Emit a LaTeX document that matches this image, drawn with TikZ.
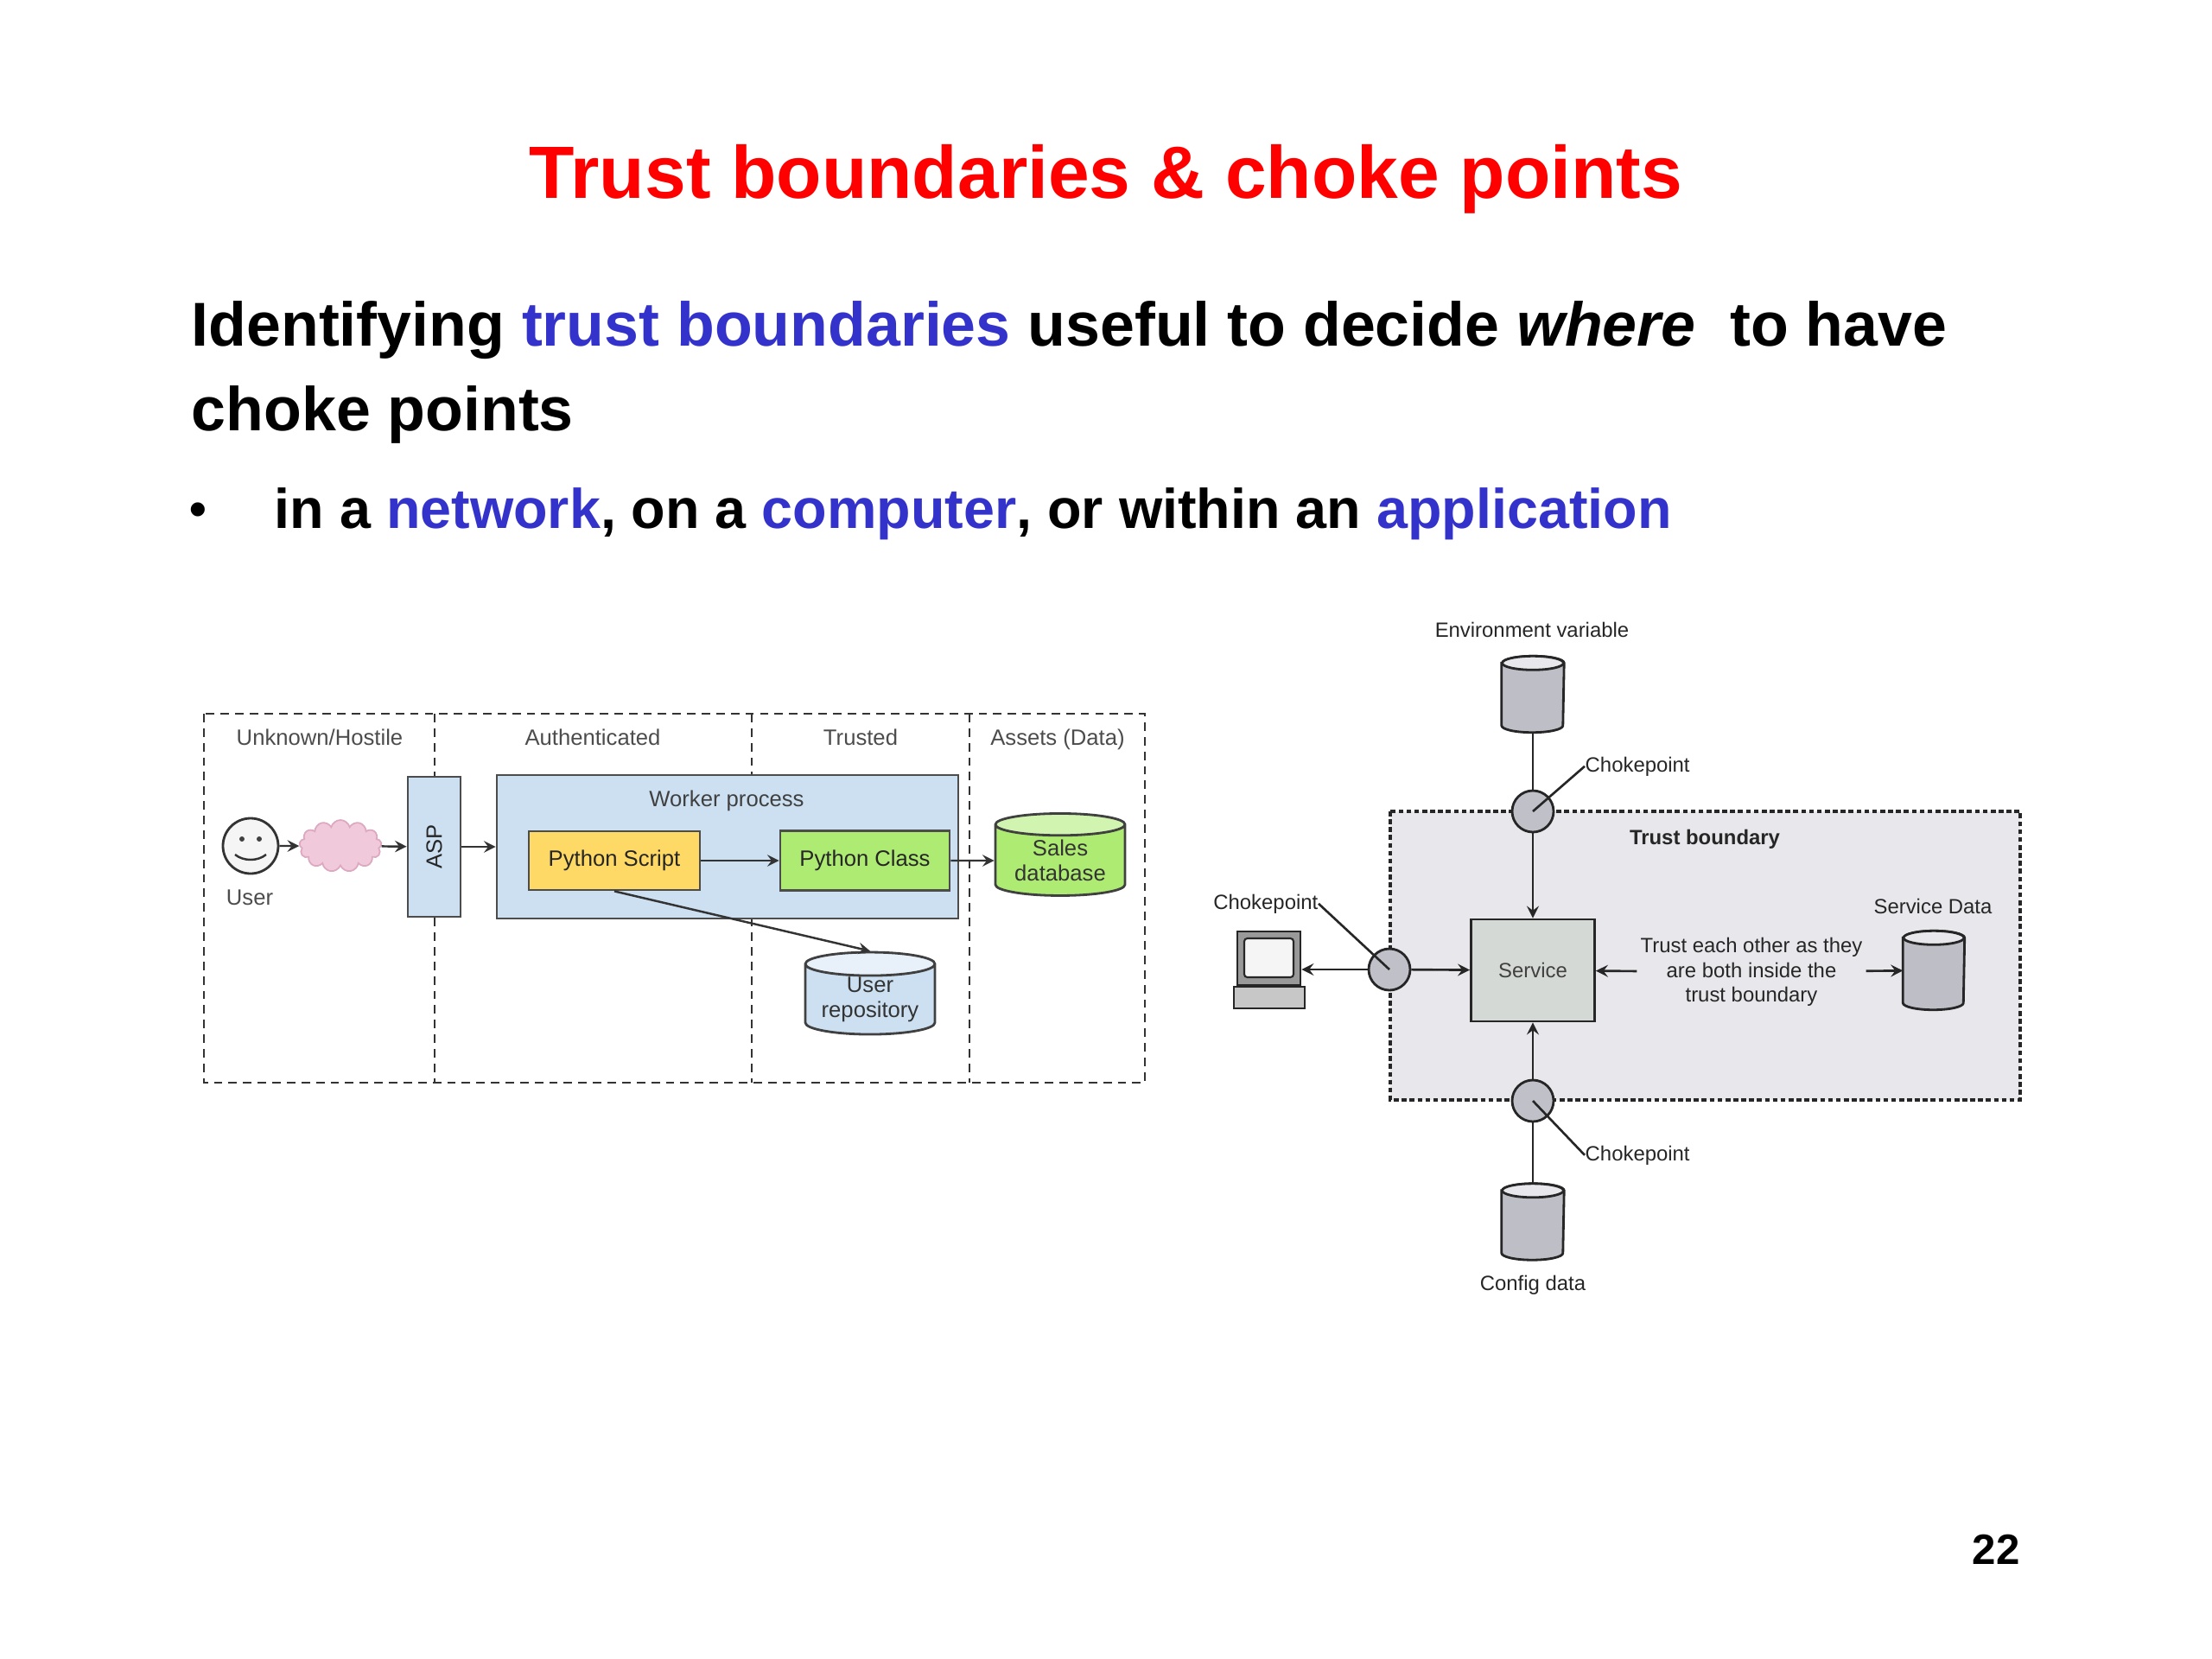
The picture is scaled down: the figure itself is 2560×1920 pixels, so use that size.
\documentclass[tikz,border=0pt]{standalone}
\usepackage{fontspec}
\setmainfont{Liberation Sans}
\usetikzlibrary{shapes.geometric,shapes.symbols,calc}
\tikzset{>=stealth}

\definecolor{titlered}{HTML}{FF0000}
\definecolor{linkblue}{HTML}{3333CC}
\definecolor{aspblue}{HTML}{CCE0F2}
\definecolor{scriptyellow}{HTML}{FFD966}
\definecolor{classgreen}{HTML}{AEEB72}
\definecolor{cloudpink}{HTML}{F0CADA}
\definecolor{cloudedge}{HTML}{DDA8C0}
\definecolor{zonegray}{HTML}{E8E8EC}
\definecolor{chokegray}{HTML}{BFC0C8}
\definecolor{svcgray}{HTML}{D5D9D5}
\definecolor{dbgray}{HTML}{BEBEC6}
\definecolor{dbtop}{HTML}{E8E8EC}

% grey data store drawn round a named node
\newcommand{\drawdb}[2]{%
  \draw[dbline] ($(#1.north west)+(0,-0.8mm)$) -- ($(#1.south west)+(0,0.8mm)$)
    arc[start angle=180,end angle=360,x radius=#2,y radius=0.8mm]
    -- ($(#1.north east)+(0,-0.8mm)$)
    arc[start angle=0,end angle=180,x radius=#2,y radius=0.8mm] -- cycle;
  \draw[dbline,fill=dbtop] ($(#1.north)+(0,-0.8mm)$) ellipse[x radius=#2,y radius=0.8mm];
}

\begin{document}
\begin{tikzpicture}[x=0.1mm,y=-0.1mm,
    zone/.style={draw=black!80,line width=0.7pt,dash pattern=on 2.8pt off 2pt},
    lefttext/.style={font=\fontsize{7.3}{8.6}\selectfont,text=black!70,inner sep=0,anchor=base},
    leftbox/.style={draw=black!70,line width=0.8pt,font=\fontsize{7.3}{8.6}\selectfont,text=black!85,inner sep=0},
    leftdb/.style={cylinder,shape border rotate=90,aspect=0.24,draw=black!75,line width=0.8pt,
      cylinder uses custom fill,minimum width=15mm,minimum height=9.5mm,inner sep=0,align=center,
      font=\fontsize{7.3}{8.2}\selectfont,text=black!80},
    flow/.style={->,draw=black!80,line width=0.7pt},
    righttext/.style={font=\fontsize{6.8}{8.1}\selectfont,text=black!85,inner sep=0},
    boundary/.style={draw=black!85,line width=0.9pt,dash pattern=on 1.6pt off 1pt},
    choke/.style={circle,draw=black!85,fill=chokegray,line width=0.8pt,minimum size=4.8mm,inner sep=0},
    dbnode/.style={minimum width=7.1mm,minimum height=8.7mm,inner sep=0},
    dbline/.style={draw=black!85,line width=0.8pt,fill=dbgray},
    link/.style={draw=black!85,line width=0.75pt},
  ]
  \useasboundingbox (0,0) rectangle (2560,1920);

  % slide text
  \node[anchor=base,inner sep=0,text=titlered,font=\fontsize{24.4}{30}\selectfont\bfseries] (title) at (1280,229) {Trust boundaries \& choke points};
  \node[anchor=base west,inner sep=0,font=\fontsize{20.4}{26}\selectfont\bfseries] (line1) at (221,400) {Identifying \textcolor{linkblue}{trust boundaries} useful to decide \textit{where}\ \ to have};
  \node[anchor=base west,inner sep=0,font=\fontsize{20.4}{26}\selectfont\bfseries] (line2) at (221,498) {choke points};
  \node[anchor=base west,inner sep=0,font=\fontsize{16}{24}\selectfont\bfseries] (bullet) at (219,608) {•};
  \node[anchor=base west,inner sep=0,font=\fontsize{18.4}{24}\selectfont\bfseries] (line3) at (317,611) {in a \textcolor{linkblue}{network}, on a \textcolor{linkblue}{computer}, or within an \textcolor{linkblue}{application}};
  \node[anchor=base west,inner sep=0,font=\fontsize{14}{17}\selectfont\bfseries] (pagenum) at (2282,1810) {22};

  % left figure: zones
  \draw[zone] (236,826) rectangle (1325,1253);
  \foreach \x in {503,870,1122} \draw[zone] (\x,826) -- (\x,1253);
  \node[lefttext] (hostile) at (370,862) {Unknown/Hostile};
  \node[lefttext] (authed) at (686,862) {Authenticated};
  \node[lefttext] (trusted) at (996,862) {Trusted};
  \node[lefttext] (assets) at (1224,862) {Assets (Data)};

  % user and network
  \node[circle,draw=black!80,fill=black!4,line width=0.8pt,minimum size=6.4mm,inner sep=0] (user) at (290,979) {};
  \fill[black!75] ($(user)+(-10,-8)$) circle (0.3mm) ($(user)+(10,-8)$) circle (0.3mm);
  \draw[black!80,line width=0.7pt] ($(user)+(-18,10)$) .. controls ($(user)+(-8,18)$) and ($(user)+(8,18)$) .. ($(user)+(18,10)$);
  \node[lefttext] (userlbl) at (289,1047) {User};
  \node[cloud,cloud puffs=13,aspect=1.6,fill=cloudpink,draw=cloudedge,line width=0.5pt,minimum width=9.5mm,minimum height=6mm,inner sep=0] (net) at (394,979) {};

  % ASP and worker
  \node[leftbox,fill=aspblue,rotate=90,minimum width=16.2mm,minimum height=6.1mm] (asp) at (502.5,980) {ASP};
  \node[leftbox,fill=aspblue,minimum width=53.4mm,minimum height=16.6mm] (worker) at (842,980) {};
  \node[lefttext,text=black!75] (workerlbl) at (841,933) {Worker process};
  \node[leftbox,fill=scriptyellow,minimum width=19.8mm,minimum height=6.8mm] (script) at (711,996) {Python Script};
  \node[leftbox,fill=classgreen,minimum width=19.6mm,minimum height=6.9mm] (class) at (1001,996) {Python Class};
  \node[leftdb,cylinder body fill=classgreen,cylinder end fill=classgreen!55!white] (sales) at (1227,996) {Sales\\database};
  \node[leftdb,cylinder body fill=aspblue,cylinder end fill=aspblue!45!white] (repo) at (1007,1157) {User\\repository};

  \draw[flow] (user) -- (net);
  \draw[flow] (net) -- (asp);
  \draw[flow] (asp) -- (worker);
  \draw[flow] (script) -- (class);
  \draw[flow] (class) -- (sales);
  \draw[flow] (script.south) -- (repo.north);

  % right figure: trust boundary
  \fill[zonegray] (1609,939) rectangle (2338,1273);
  \draw[boundary] (1609,939) rectangle (2338,1273);
  \node[righttext,anchor=base,font=\fontsize{6.8}{8.1}\selectfont\bfseries] (tblbl) at (1973,977) {Trust boundary};

  \node[righttext,anchor=base] (envlbl) at (1773,737) {Environment variable};
  \node[dbnode] (envdb) at (1774,803.5) {};
  \drawdb{envdb}{3.55mm}
  \node[choke] (cptop) at (1774,939) {};
  \node[choke] (cpleft) at (1608,1122) {};
  \node[choke] (cpbot) at (1774,1274) {};
  \node[draw=black!85,fill=svcgray,line width=0.8pt,minimum width=14.3mm,minimum height=11.8mm,
    font=\fontsize{6.8}{8.1}\selectfont,text=black!75] (service) at (1774,1123) {Service};
  \node[dbnode] (cfgdb) at (1774,1414) {};
  \drawdb{cfgdb}{3.55mm}
  \node[righttext,anchor=base] (cfglbl) at (1774,1493) {Config data};
  \node[dbnode,minimum height=9mm,minimum width=7mm] (svcdb) at (2238,1123) {};
  \drawdb{svcdb}{3.5mm}
  \node[righttext,anchor=base] (svcdblbl) at (2237,1057) {Service Data};
  \node[righttext,align=center] (trusttext) at (2027,1125) {Trust each other as they\\are both inside the\\trust boundary};
  \node[righttext,anchor=base west] (cktop) at (1834,893) {Chokepoint};
  \node[righttext,anchor=base east] (ckleft) at (1526,1052) {Chokepoint};
  \node[righttext,anchor=base west] (ckbot) at (1834,1343) {Chokepoint};

  % computer
  \node[draw=black!85,fill=black!40,line width=0.8pt,minimum width=7.3mm,minimum height=6.2mm,inner sep=0] (pc) at (1468.5,1109) {};
  \draw[black!85,fill=black!4,rounded corners=1pt,line width=0.6pt] (1440,1086) rectangle (1497,1131);
  \node[draw=black!85,fill=black!22,line width=0.8pt,minimum width=8.2mm,minimum height=2.5mm,inner sep=0] (pcbase) at (1469,1154.5) {};

  \draw[link] (envdb) -- (cptop);
  \draw[link,->] (cptop) -- (service);
  \draw[link,->] (cpleft) -- (service);
  \draw[link,->] (cpleft) -- (cpleft -| pc.east);
  \draw[link,->] (cpbot) -- (service);
  \draw[link] (cpbot) -- (cfgdb);
  \draw[link,->,shorten <=1pt] (trusttext) -- (service);
  \draw[link,->,shorten <=1pt] (trusttext) -- (svcdb);
  \draw[link] (cptop.center) -- (cktop.west);
  \draw[link] (cpleft.center) -- (ckleft.east);
  \draw[link] (cpbot.center) -- (ckbot.west);
\end{tikzpicture}
\end{document}
